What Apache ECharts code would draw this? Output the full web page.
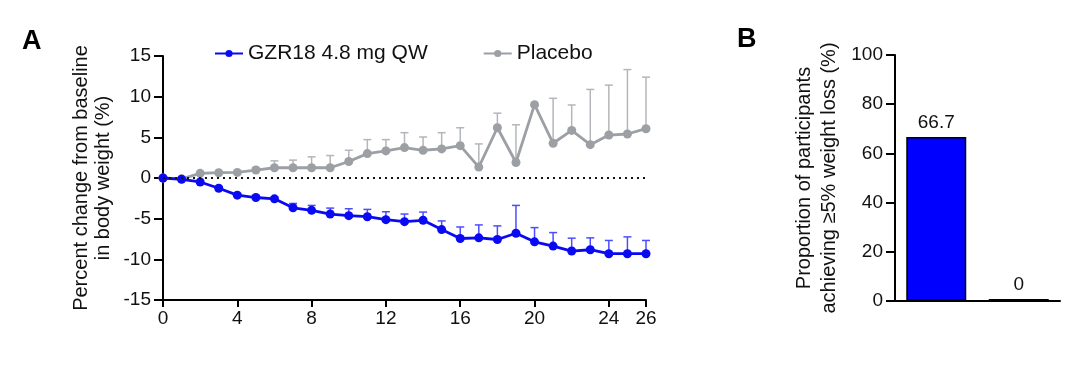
<!DOCTYPE html>
<html>
<head>
<meta charset="utf-8">
<script src="https://cdn.jsdelivr.net/npm/echarts@6/dist/echarts.min.js"></script>
<style>
html,body{margin:0;padding:0;background:#fff;}
#chart{width:1080px;height:373px;}
</style>
</head>
<body>
<div id="chart"></div>
<script>
// ---- Data ----
var weeks = [0,1,2,3,4,5,6,7,8,9,10,11,12,13,14,15,16,17,18,19,20,21,22,23,24,25,26];
var xTickValues = [0,4,8,12,16,20,24,26];
var gzrMean = [0,-0.16,-0.49,-1.26,-2.11,-2.40,-2.56,-3.66,-3.98,-4.43,-4.63,-4.76,-5.12,-5.37,-5.20,-6.34,-7.44,-7.36,-7.56,-6.79,-7.85,-8.37,-8.98,-8.82,-9.31,-9.31,-9.31];
var gzrSD = [0,0,0,0.2,0.2,0.2,0.25,0.53,0.61,0.73,0.85,0.90,0.97,0.94,1.01,1.06,1.42,1.59,1.67,3.42,1.75,1.66,1.58,1.46,1.63,2.07,1.63];
var placeboMean = [0,-0.10,0.57,0.65,0.69,0.98,1.26,1.26,1.26,1.26,2.03,3.00,3.33,3.74,3.41,3.58,3.98,1.34,6.18,1.91,9.02,4.27,5.85,4.10,5.28,5.41,6.06];
var placeboSD = [0,0,0,0,0,0.3,0.85,0.94,1.34,1.50,1.38,1.72,1.39,1.83,1.63,1.99,2.20,2.85,1.79,4.63,0,5.53,3.13,6.79,6.14,7.92,6.34];
var groups = ['GZR18 4.8 mg QW','Placebo'];
var proportions = [66.7, 0];
var seriesNames = ['GZR18 4.8 mg QW','Placebo'];

var BLUE = '#0a0af2';
var GRAY = '#9c9fa4';
var FONT = '"Liberation Sans", Arial, sans-serif';

function pairs(xs, ys){ return xs.map(function(x,i){ return [x, ys[i]]; }); }
function errData(xs, ys, sd){ return xs.map(function(x,i){ return [x, ys[i], ys[i]+sd[i]]; }); }

function errRender(color){
  return function(params, api){
    var x = api.value(0), y = api.value(1), top = api.value(2);
    if (top - y <= 0) return null;
    var p0 = api.coord([x, y]);
    var p1 = api.coord([x, top]);
    var hw = 4;
    return {
      type: 'group',
      children: [
        {type:'line', shape:{x1:p0[0], y1:p0[1], x2:p1[0], y2:p1[1]}, style:{stroke:color, lineWidth:1.5}},
        {type:'line', shape:{x1:p1[0]-hw, y1:p1[1], x2:p1[0]+hw, y2:p1[1]}, style:{stroke:color, lineWidth:1.5}}
      ]
    };
  };
}

var chart = echarts.init(document.getElementById('chart'), null, {renderer:'canvas'});
var axisLineStyle = {color:'#000', width:2};
var option = {
  animation: false,
  backgroundColor: '#fff',
  textStyle: {fontFamily: FONT, color:'#111'},
  legend: {
    left: 209, top: 38,
    itemWidth: 28, itemHeight: 9, itemGap: 55,
    textStyle: {fontSize: 21, color:'#111', fontFamily: FONT},
    data: seriesNames
  },
  graphic: [
    {type:'text', left: 22, top: 28, style:{text:'A', font:'bold 27px ' + FONT, fill:'#000'}},
    {type:'text', left: 737, top: 26, style:{text:'B', font:'bold 27px ' + FONT, fill:'#000'}}
  ],
  grid: [
    {left: 163, right: 434, top: 56, bottom: 73, containLabel: false},
    {left: 895, right: 20, top: 55, bottom: 72, containLabel: false}
  ],
  xAxis: [
    {
      type: 'value', gridIndex: 0, min: 0, max: 26, interval: 2,
      axisLine: {show:true, lineStyle: axisLineStyle, onZero: false},
      axisTick: {show:true, length:7, lineStyle:{color:'#000', width:2}, customValues: xTickValues},
      axisLabel: {fontSize: 19, color:'#111', margin: 9, customValues: xTickValues},
      splitLine: {show:false}
    },
    {
      type: 'category', gridIndex: 1, data: groups,
      axisLine: {show:true, lineStyle: axisLineStyle},
      axisTick: {show:false},
      axisLabel: {show:false},
      splitLine: {show:false}
    }
  ],
  yAxis: [
    {
      type: 'value', gridIndex: 0, min: -15, max: 15, interval: 5,
      axisLine: {show:true, lineStyle: axisLineStyle, onZero: false},
      axisTick: {show:true, length:9, lineStyle:{color:'#000', width:2}},
      axisLabel: {fontSize: 19, color:'#111', margin: 12},
      splitLine: {show:false},
      name: 'Percent change from baseline\nin body weight (%)',
      nameLocation: 'middle', nameRotate: 90, nameGap: 49,
      nameTextStyle: {fontSize: 20, lineHeight: 22, color:'#111', fontFamily: FONT, align:'center'}
    },
    {
      type: 'value', gridIndex: 1, min: 0, max: 100, interval: 20,
      axisLine: {show:true, lineStyle: axisLineStyle},
      axisTick: {show:true, length:9, lineStyle:{color:'#000', width:2}},
      axisLabel: {fontSize: 19, color:'#111', margin: 12},
      splitLine: {show:false},
      name: 'Proportion of participants\nachieving \u22655% weight loss (%)',
      nameLocation: 'middle', nameRotate: 90, nameGap: 53,
      nameTextStyle: {fontSize: 20, lineHeight: 25, color:'#111', fontFamily: FONT, align:'center'}
    }
  ],
  series: [
    {
      type: 'custom', name: 'gzrErr', xAxisIndex: 0, yAxisIndex: 0,
      renderItem: errRender('#4d4dff'), data: errData(weeks, gzrMean, gzrSD), z: 1, silent: true
    },
    {
      type: 'custom', name: 'placeboErr', xAxisIndex: 0, yAxisIndex: 0,
      renderItem: errRender('#b3b6ba'), data: errData(weeks, placeboMean, placeboSD), z: 1, silent: true
    },
    {
      type: 'line', name: seriesNames[1], xAxisIndex: 0, yAxisIndex: 0,
      data: pairs(weeks, placeboMean),
      symbol: 'circle', symbolSize: 9, showAllSymbol: true,
      lineStyle: {color: GRAY, width: 2.8}, itemStyle: {color: GRAY},
      z: 3,
      markLine: {
        silent: true, symbol: 'none', label: {show:false},
        lineStyle: {color:'#111', type:[2,4], width:2},
        data: [{yAxis: 0}]
      }
    },
    {
      type: 'line', name: seriesNames[0], xAxisIndex: 0, yAxisIndex: 0,
      data: pairs(weeks, gzrMean),
      symbol: 'circle', symbolSize: 9, showAllSymbol: true,
      lineStyle: {color: BLUE, width: 2.8}, itemStyle: {color: BLUE},
      z: 4
    },
    {
      type: 'bar', xAxisIndex: 1, yAxisIndex: 1,
      barWidth: 60, barMinHeight: 2,
      data: proportions.map(function(v,i){
        return {value: v, itemStyle: {color: i === 0 ? '#0000ff' : '#000', borderColor:'#000', borderWidth: 1.5}};
      }),
      label: {show: true, position: 'top', distance: 5, fontSize: 19, color:'#111', fontFamily: FONT,
        formatter: function(p){ return String(p.value); }}
    }
  ]
};
chart.setOption(option);
</script>
</body>
</html>
